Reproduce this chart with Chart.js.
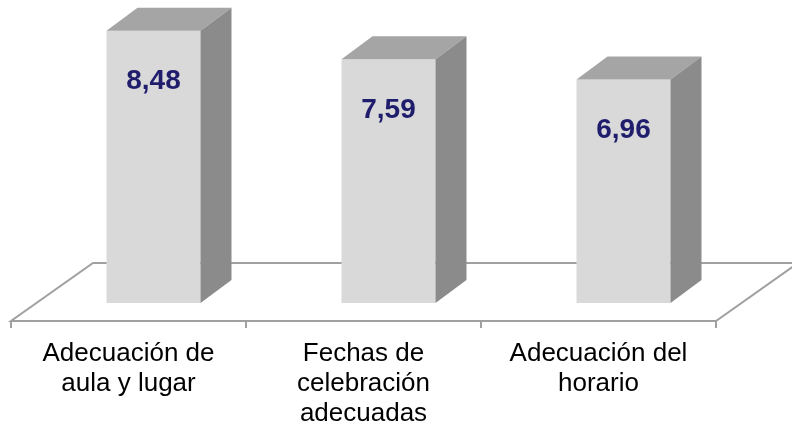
<!DOCTYPE html>
<html>
<head>
<meta charset="utf-8">
<script src="https://cdn.jsdelivr.net/npm/chart.js@4"></script>
<style>
  html, body { margin: 0; padding: 0; background: #fff; }
  #wrap { width: 792px; height: 429px; }
</style>
</head>
<body>
<div id="wrap"><canvas id="chart1"></canvas></div>
<script>
var labelsChart1 = [
    ['Adecuación de', 'aula y lugar'],
    ['Fechas de', 'celebración', 'adecuadas'],
    ['Adecuación del', 'horario']
]

var valuesChart1 = [8.48, 7.59, 6.96]

// 3D look: bar depth and floor depth (px)
var barDepth = { dx: 31, dy: -23 }
var floorDepth = { dx: 82, dy: -58 }
var floorFront = { dx: -25, dy: 18 }

var box3d = {
    id: 'box3d',
    beforeDatasetsDraw: function(chart) {
        var ctx = chart.ctx
        var x = chart.scales.x
        var y0 = chart.scales.y.getPixelForValue(0)
        var fl = x.left + floorFront.dx
        var fr = x.right + floorFront.dx
        var fy = y0 + floorFront.dy
        ctx.save()
        ctx.strokeStyle = '#a0a0a0'
        ctx.lineWidth = 2
        ctx.beginPath()
        ctx.moveTo(fl, fy)
        ctx.lineTo(fr, fy)
        ctx.lineTo(fr + floorDepth.dx, fy + floorDepth.dy)
        ctx.lineTo(fl + floorDepth.dx, fy + floorDepth.dy)
        ctx.closePath()
        ctx.stroke()
        // tick marks under the front edge
        var n = labelsChart1.length
        ctx.beginPath()
        for (var i = 0; i <= n; i++) {
            var tx = fl + (fr - fl) * i / n
            ctx.moveTo(tx, fy)
            ctx.lineTo(tx, fy + 7)
        }
        ctx.stroke()
        ctx.restore()
    },
    afterDatasetsDraw: function(chart) {
        var ctx = chart.ctx
        var meta = chart.getDatasetMeta(0)
        ctx.save()
        meta.data.forEach(function(bar, i) {
            var x1 = bar.x - bar.width / 2
            var x2 = bar.x + bar.width / 2
            var yt = bar.y
            var yb = bar.base
            // top face
            ctx.fillStyle = '#a5a5a5'
            ctx.beginPath()
            ctx.moveTo(x1, yt)
            ctx.lineTo(x1 + barDepth.dx, yt + barDepth.dy)
            ctx.lineTo(x2 + barDepth.dx, yt + barDepth.dy)
            ctx.lineTo(x2, yt)
            ctx.closePath()
            ctx.fill()
            // side face
            ctx.fillStyle = '#8b8b8b'
            ctx.beginPath()
            ctx.moveTo(x2, yt)
            ctx.lineTo(x2 + barDepth.dx, yt + barDepth.dy)
            ctx.lineTo(x2 + barDepth.dx, yb + barDepth.dy)
            ctx.lineTo(x2, yb)
            ctx.closePath()
            ctx.fill()
            // value label
            ctx.fillStyle = '#1f1d6c'
            ctx.font = 'bold 28px "Liberation Sans", Arial, sans-serif'
            ctx.textAlign = 'center'
            ctx.textBaseline = 'middle'
            ctx.fillText(valuesChart1[i].toFixed(2).replace('.', ','), bar.x, yt + 51)
        })
        ctx.restore()
    }
}

var dataChart1 = {
    labels: labelsChart1,
    datasets: [{
        data: valuesChart1,
        backgroundColor: '#d9d9d9',
        borderWidth: 0,
        categoryPercentage: 1,
        barPercentage: 0.4
    }]
}

var configChart1 = {
    type: 'bar',
    data: dataChart1,
    options: {
        responsive: true,
        maintainAspectRatio: false,
        animation: false,
        layout: {
            padding: { left: 36, right: 51, top: 14, bottom: 0 }
        },
        scales: {
            x: {
                grid: { display: false, drawTicks: false },
                border: { display: false },
                ticks: {
                    color: '#000',
                    padding: 36,
                    labelOffset: -25,
                    maxRotation: 0,
                    autoSkip: false,
                    font: { family: '"Liberation Sans", Arial, sans-serif', size: 26, lineHeight: 1.15 }
                },
                afterFit: function(scale) {
                    scale.height = 126
                }
            },
            y: {
                display: false,
                min: 0,
                max: 9
            }
        },
        plugins: {
            legend: { display: false },
            tooltip: { enabled: false }
        }
    },
    plugins: [box3d]
};

var chart1 = new Chart(
    document.getElementById('chart1'),
    configChart1
);
</script>
</body>
</html>
